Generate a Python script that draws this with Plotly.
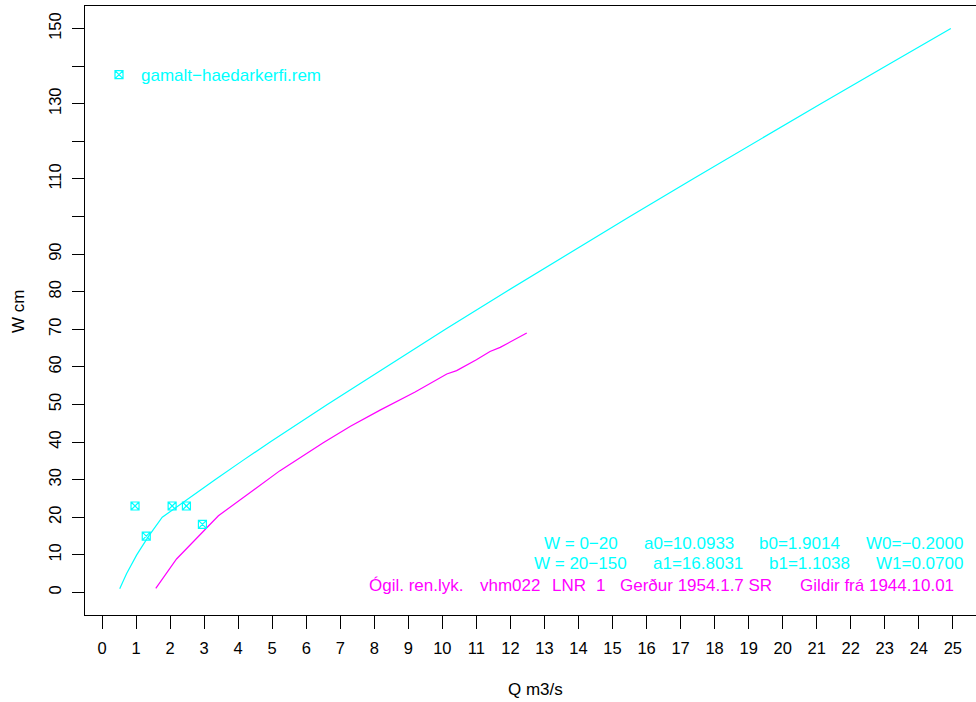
import plotly.graph_objects as go

# Rating curve (cyan), W in cm, Q in m3/s
cyan_W = [1, 5, 10, 15, 20, 25, 30, 35, 40, 50, 60, 70, 80, 90, 100, 110, 120, 130, 140, 150]
cyan_Q = [0.52, 0.72, 1.02, 1.37, 1.77, 2.53, 3.32, 4.12, 4.94, 6.62, 8.34, 10.09, 11.87,
          13.68, 15.51, 17.36, 19.23, 21.12, 23.02, 24.94]

# Invalid rating curve (magenta)
mag_Q = [1.58, 2.19, 3.42, 4.08, 4.89, 5.23, 6.5, 7.3, 8.17, 9.2, 10.13, 10.42, 11.0, 11.40, 11.7, 12.48]
mag_W = [1.1, 8.9, 20.4, 24.8, 30.1, 32.4, 39.8, 44.2, 48.5, 53.3, 58.1, 59.0, 61.9, 64.1, 65.2, 69.0]

# Measurements
obs_Q = [0.97, 1.30, 2.06, 2.48, 2.95]
obs_W = [23.0, 15.0, 23.0, 23.0, 18.1]
obs_name = "gamalt\u2212haedarkerfi.rem"

x_ticks = list(range(0, 26))
y_ticks = list(range(0, 151, 10))
y_labels = [str(v) if (v <= 90 or v in (110, 130, 150)) else "" for v in y_ticks]

line1 = ["W = 0\u221220", "a0=10.0933", "b0=1.9014", "W0=\u22120.2000"]
line2 = ["W = 20\u2212150", "a1=16.8031", "b1=1.1038", "W1=0.0700"]
line3 = ["\u00d3gil. ren.lyk.", "vhm022", "LNR", "1", "Ger\u00f0ur 1954.1.7 SR", "Gildir fr\u00e1 1944.10.01"]

CYAN = "#00FFFF"
MAG = "#FF00FF"
FONT = "Liberation Sans, Arial, Helvetica, sans-serif"

fig = go.Figure()
fig.add_trace(go.Scatter(x=cyan_Q, y=cyan_W, mode="lines", line=dict(color=CYAN, width=1.2),
                         showlegend=False, hoverinfo="skip"))
fig.add_trace(go.Scatter(x=mag_Q, y=mag_W, mode="lines", line=dict(color=MAG, width=1.2),
                         showlegend=False, hoverinfo="skip"))
fig.add_trace(go.Scatter(x=obs_Q, y=obs_W, mode="markers", name=obs_name,
                         marker=dict(symbol="square-x-open", size=8, color=CYAN,
                                     line=dict(color=CYAN, width=1.2)),
                         showlegend=True))

# plot area pixel geometry
L, R, T, B = 85, 976, 6, 615
W_, H_ = R - L, B - T
def px(x):
    return (x - L) / W_
def py(y):
    return (B - y) / H_

ann = []
r1 = [619, 735, 841, 964]
r2 = [628, 744, 851, 964]
l3 = [368, 479, 551, 595, 619, 799]
for t, xr in zip(line1, r1):
    ann.append(dict(text=t, x=px(xr), y=py(543), xanchor="right", yanchor="middle",
                    font=dict(color=CYAN, size=17, family=FONT)))
for t, xr in zip(line2, r2):
    ann.append(dict(text=t, x=px(xr), y=py(563), xanchor="right", yanchor="middle",
                    font=dict(color=CYAN, size=17, family=FONT)))
for t, xl in zip(line3, l3):
    ann.append(dict(text=t, x=px(xl), y=py(585), xanchor="left", yanchor="middle",
                    font=dict(color=MAG, size=17, family=FONT)))
ann.append(dict(text="Q m3/s", x=px(535), y=py(689), xanchor="center", yanchor="middle",
                font=dict(color="black", size=17, family=FONT)))
ann.append(dict(text="W cm", x=px(18), y=py(312), xanchor="center", yanchor="middle",
                textangle=-90, font=dict(color="black", size=17, family=FONT)))
for a in ann:
    a.update(xref="paper", yref="paper", showarrow=False, borderpad=0)

fig.update_layout(
    width=976, height=702,
    margin=dict(l=L, r=976 - R, t=T, b=702 - B, pad=0),
    paper_bgcolor="white", plot_bgcolor="white",
    font=dict(family=FONT, size=16.5, color="black"),
    annotations=ann,
    legend=dict(x=px(97), y=py(57), xanchor="left", yanchor="top", itemwidth=34,
                bgcolor="rgba(0,0,0,0)", font=dict(color=CYAN, size=17, family=FONT)),
    xaxis=dict(range=[-0.5, 25.68], tickmode="array", tickvals=x_ticks,
               ticktext=[str(v) for v in x_ticks], ticks="outside", ticklen=13,
               tickcolor="black", tickwidth=1, showgrid=False, zeroline=False,
               showline=True, linecolor="black", linewidth=1, mirror=True,
               ticklabelstandoff=5),
    yaxis=dict(range=[-6, 156], tickmode="array", tickvals=y_ticks, ticktext=y_labels,
               ticks="outside", ticklen=12, tickcolor="black", tickwidth=1,
               tickangle=-90, showgrid=False, zeroline=False,
               showline=True, linecolor="black", linewidth=1, mirror=True,
               ticklabelstandoff=4),
)

fig.write_html("out.html", config={"displayModeBar": False},
               post_script="document.body.style.margin='0';document.body.style.overflow='hidden';")
